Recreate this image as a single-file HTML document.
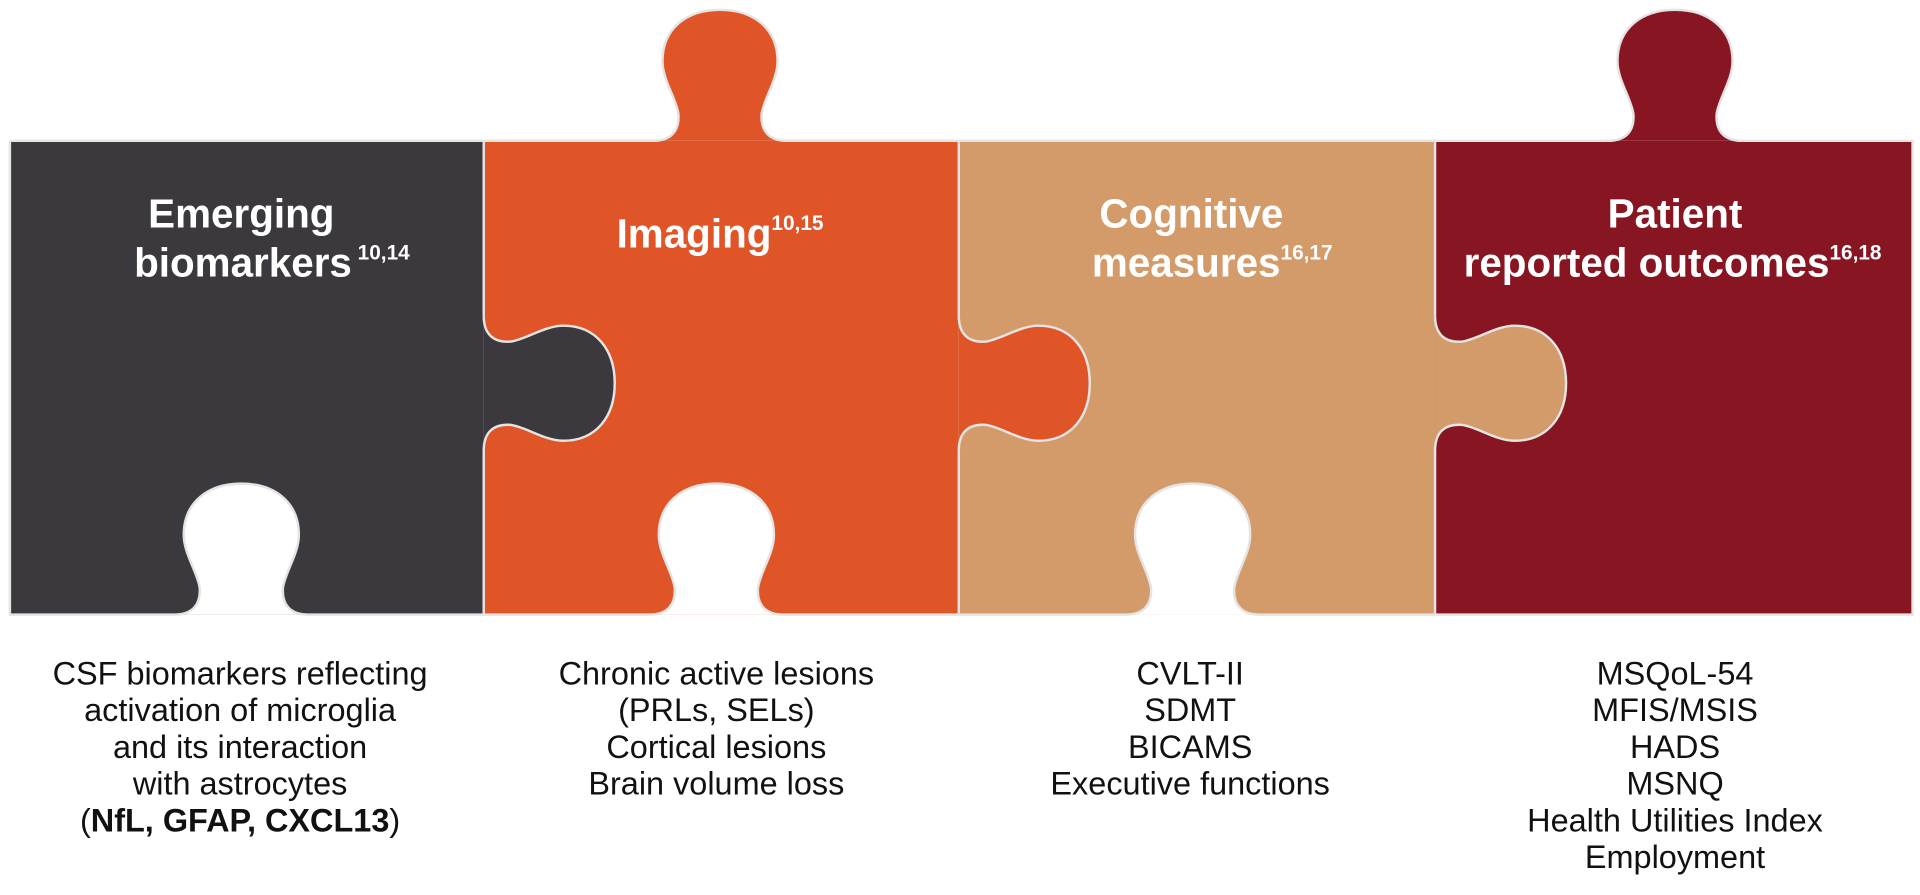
<!DOCTYPE html>
<html><head><meta charset="utf-8"><style>
html,body{margin:0;padding:0;background:#fff;}
svg{display:block;}
text{font-family:"Liberation Sans",sans-serif;}
.t{fill:#fff;font-weight:bold;font-size:33px;text-anchor:middle;}
.s{font-size:17px;}
.b{fill:#111;font-size:26.5px;text-anchor:middle;}
</style></head><body>
<svg width="1920" height="895" viewBox="0 0 1568 731" xmlns="http://www.w3.org/2000/svg">
<defs>
<path id="k" d="M -55 0 C -40 0 -33 -8 -34 -22 C -36 -35 -47 -50 -47 -65 C -47 -92 -27 -107 0 -107 C 27 -107 47 -92 47 -65 C 47 -50 36 -35 34 -22 C 33 -8 40 0 55 0"/>
</defs>
<rect x="8" y="115" width="387" height="387" fill="#3c393e"/>
<rect x="395" y="115" width="388" height="387" fill="#e05527"/>
<rect x="783" y="115" width="389" height="387" fill="#d49b6a"/>
<rect x="1172" y="115" width="390" height="387" fill="#871622"/>
<g stroke="#e4e4e4" stroke-width="2">
<use href="#k" transform="translate(588,115)" fill="#e05527"/>
<use href="#k" transform="translate(1368,115)" fill="#871622"/>
<use href="#k" transform="translate(395,313) rotate(90)" fill="#3c393e"/>
<use href="#k" transform="translate(783,313) rotate(90)" fill="#e05527"/>
<use href="#k" transform="translate(1172,313) rotate(90)" fill="#d49b6a"/>
<use href="#k" transform="translate(197,502)" fill="#fff"/>
<use href="#k" transform="translate(585,502)" fill="#fff"/>
<use href="#k" transform="translate(974,502)" fill="#fff"/>
<path fill="none" d="M 8 115 H 533 M 643 115 H 1313 M 1423 115 H 1562 V 502 H 1029 M 919 502 H 640 M 530 502 H 252 M 142 502 H 8 V 115
M 395 115 V 258 M 395 368 V 502 M 783 115 V 258 M 783 368 V 502 M 1172 115 V 258 M 1172 368 V 502"/>
</g>

<text class="t" x="197" y="186">Emerging</text>
<text class="t" x="222" y="226">biomarkers<tspan class="s" dy="-14"> 10,14</tspan></text>
<text class="t" x="588" y="202">Imaging<tspan class="s" dy="-14">10,15</tspan></text>
<text class="t" x="973" y="186">Cognitive</text>
<text class="t" x="990" y="226">measures<tspan class="s" dy="-14">16,17</tspan></text>
<text class="t" x="1368" y="186">Patient</text>
<text class="t" x="1366" y="226">reported outcomes<tspan class="s" dy="-14">16,18</tspan></text>

<text class="b" x="196" y="559">CSF biomarkers reflecting</text>
<text class="b" x="196" y="589">activation of microglia</text>
<text class="b" x="196" y="619">and its interaction</text>
<text class="b" x="196" y="649">with astrocytes</text>
<text class="b" x="196" y="679">(<tspan font-weight="bold">NfL, GFAP, CXCL13</tspan>)</text>
<text class="b" x="585" y="559">Chronic active lesions</text>
<text class="b" x="585" y="589">(PRLs, SELs)</text>
<text class="b" x="585" y="619">Cortical lesions</text>
<text class="b" x="585" y="649">Brain volume loss</text>
<text class="b" x="972" y="559">CVLT-II</text>
<text class="b" x="972" y="589">SDMT</text>
<text class="b" x="972" y="619">BICAMS</text>
<text class="b" x="972" y="649">Executive functions</text>
<text class="b" x="1368" y="559">MSQoL-54</text>
<text class="b" x="1368" y="589">MFIS/MSIS</text>
<text class="b" x="1368" y="619">HADS</text>
<text class="b" x="1368" y="649">MSNQ</text>
<text class="b" x="1368" y="679">Health Utilities Index</text>
<text class="b" x="1368" y="709">Employment</text>
</svg>
</body></html>
